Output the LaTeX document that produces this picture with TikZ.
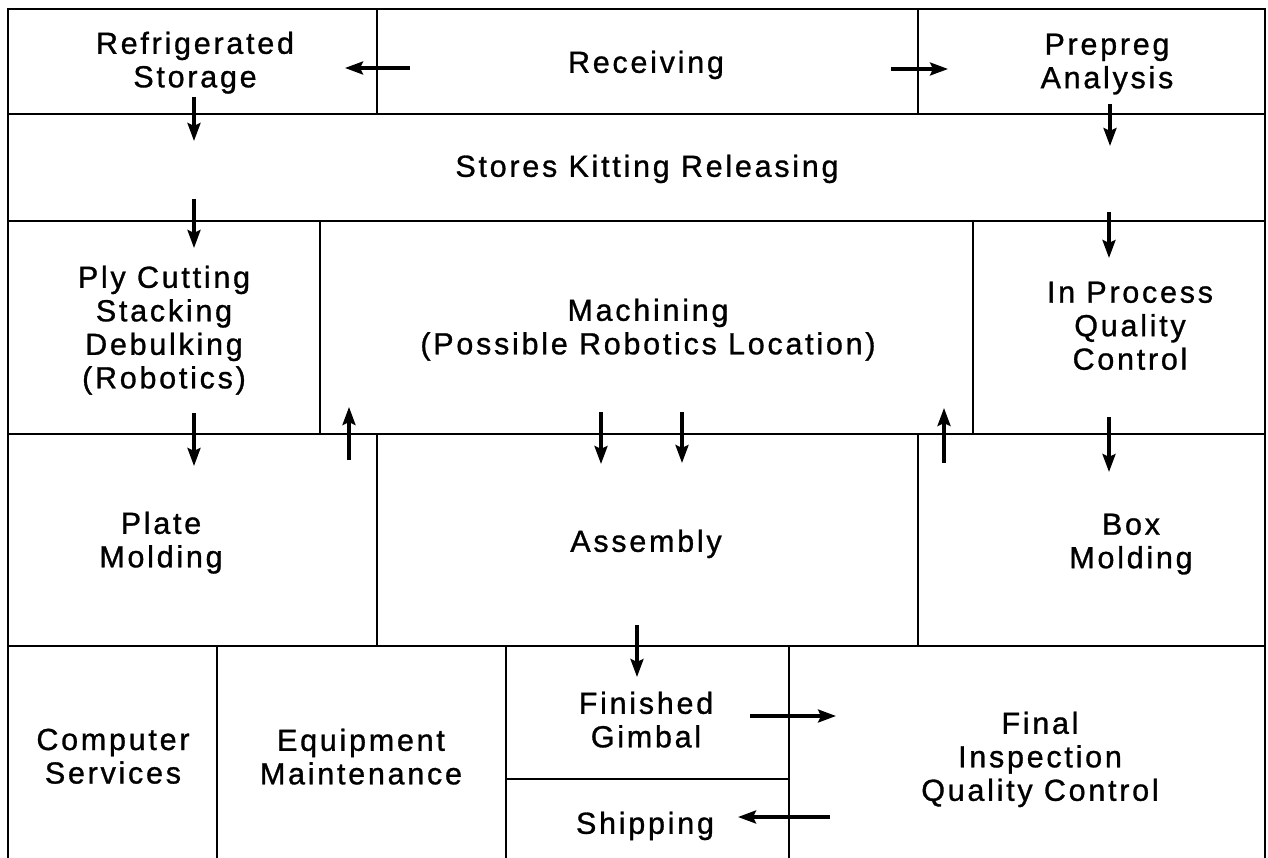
\documentclass[tikz,border=0pt]{standalone}
\usepackage{fontspec}
\setmainfont{Liberation Sans}[LetterSpace=9,FakeBold=1]
\usetikzlibrary{arrows.meta}
\tikzset{
  wall/.style={line width=2.8pt, line cap=rect},
  flow/.style={line width=3.2pt, -{Stealth[length=18pt,width=13pt,inset=3pt]}},
  lbl/.style={anchor=north, inner sep=0pt, align=center, font=\fontsize{30.5}{33.5}\selectfont}
}
\begin{document}
\begin{tikzpicture}[x=1pt,y=-1pt]
\useasboundingbox (0,0) rectangle (1268,858);
% outer frame and walls
\draw[wall] (8,858) -- (8,9) -- (1265,9) -- (1265,858);
\draw[wall] (8,114) -- (1265,114);
\draw[wall] (8,221) -- (1265,221);
\draw[wall] (8,434) -- (1265,434);
\draw[wall] (8,646) -- (1265,646);
\draw[wall] (506,779) -- (789,779);
\draw[wall] (377,9) -- (377,114);
\draw[wall] (918,9) -- (918,114);
\draw[wall] (320,221) -- (320,434);
\draw[wall] (973,221) -- (973,434);
\draw[wall] (377,434) -- (377,646);
\draw[wall] (918,434) -- (918,646);
\draw[wall] (217,646) -- (217,858);
\draw[wall] (506,646) -- (506,858);
\draw[wall] (789,646) -- (789,858);
% labels
\node[lbl] (refr)  at (195,31.5)  {Refrigerated\\Storage};
\node[lbl] (recv)  at (646,50.5)  {Receiving};
\node[lbl] (prep)  at (1107,33.5) {Prepreg\\Analysis};
\node[lbl] (store) at (647,154.5) {Stores Kitting Releasing};
\node[lbl] (ply)   at (164,265.5) {Ply Cutting\\Stacking\\Debulking\\(Robotics)};
\node[lbl] (mach)  at (648,298.5) {Machining\\(Possible Robotics Location)};
\node[lbl] (ipqc)  at (1130,281.5) {In Process\\Quality\\Control};
\node[lbl] (plate) at (161,511.5) {Plate\\Molding};
\node[lbl] (asm)   at (646,529.5) {Assembly};
\node[lbl] (box)   at (1131,513.5) {Box\\Molding};
\node[lbl] (comp)  at (113,728.5) {Computer\\Services};
\node[lbl] (equip) at (361,728.5) {Equipment\\Maintenance};
\node[lbl] (fin)   at (646,691.5) {Finished\\Gimbal};
\node[lbl] (ship)  at (645,811.5) {Shipping};
\node[lbl] (final) at (1040,711.5) {Final\\Inspection\\Quality Control};
% arrow end points
\coordinate (a1s) at (410,68);  \coordinate (a1e) at (345,68);
\coordinate (a2s) at (891,69);  \coordinate (a2e) at (948,69);
\coordinate (a3s) at (194,97);  \coordinate (a3e) at (194,141);
\coordinate (a4s) at (1110,104); \coordinate (a4e) at (1110,146);
\coordinate (a5s) at (194,199); \coordinate (a5e) at (194,248);
\coordinate (a6s) at (1109,212); \coordinate (a6e) at (1109,258);
\coordinate (a7s) at (194,413); \coordinate (a7e) at (194,466);
\coordinate (a8s) at (349,460); \coordinate (a8e) at (349,407);
\coordinate (a9s) at (601,412); \coordinate (a9e) at (601,464);
\coordinate (a10s) at (682,412); \coordinate (a10e) at (682,463);
\coordinate (a11s) at (944,463); \coordinate (a11e) at (944,408);
\coordinate (a12s) at (1109,417); \coordinate (a12e) at (1109,472);
\coordinate (a13s) at (637,625); \coordinate (a13e) at (637,677);
\coordinate (a14s) at (750,716); \coordinate (a14e) at (836,716);
\coordinate (a15s) at (830,817); \coordinate (a15e) at (738,817);
% arrows
\foreach \i in {1,...,15} {\draw[flow] (a\i s) -- (a\i e);}
\end{tikzpicture}
\end{document}
